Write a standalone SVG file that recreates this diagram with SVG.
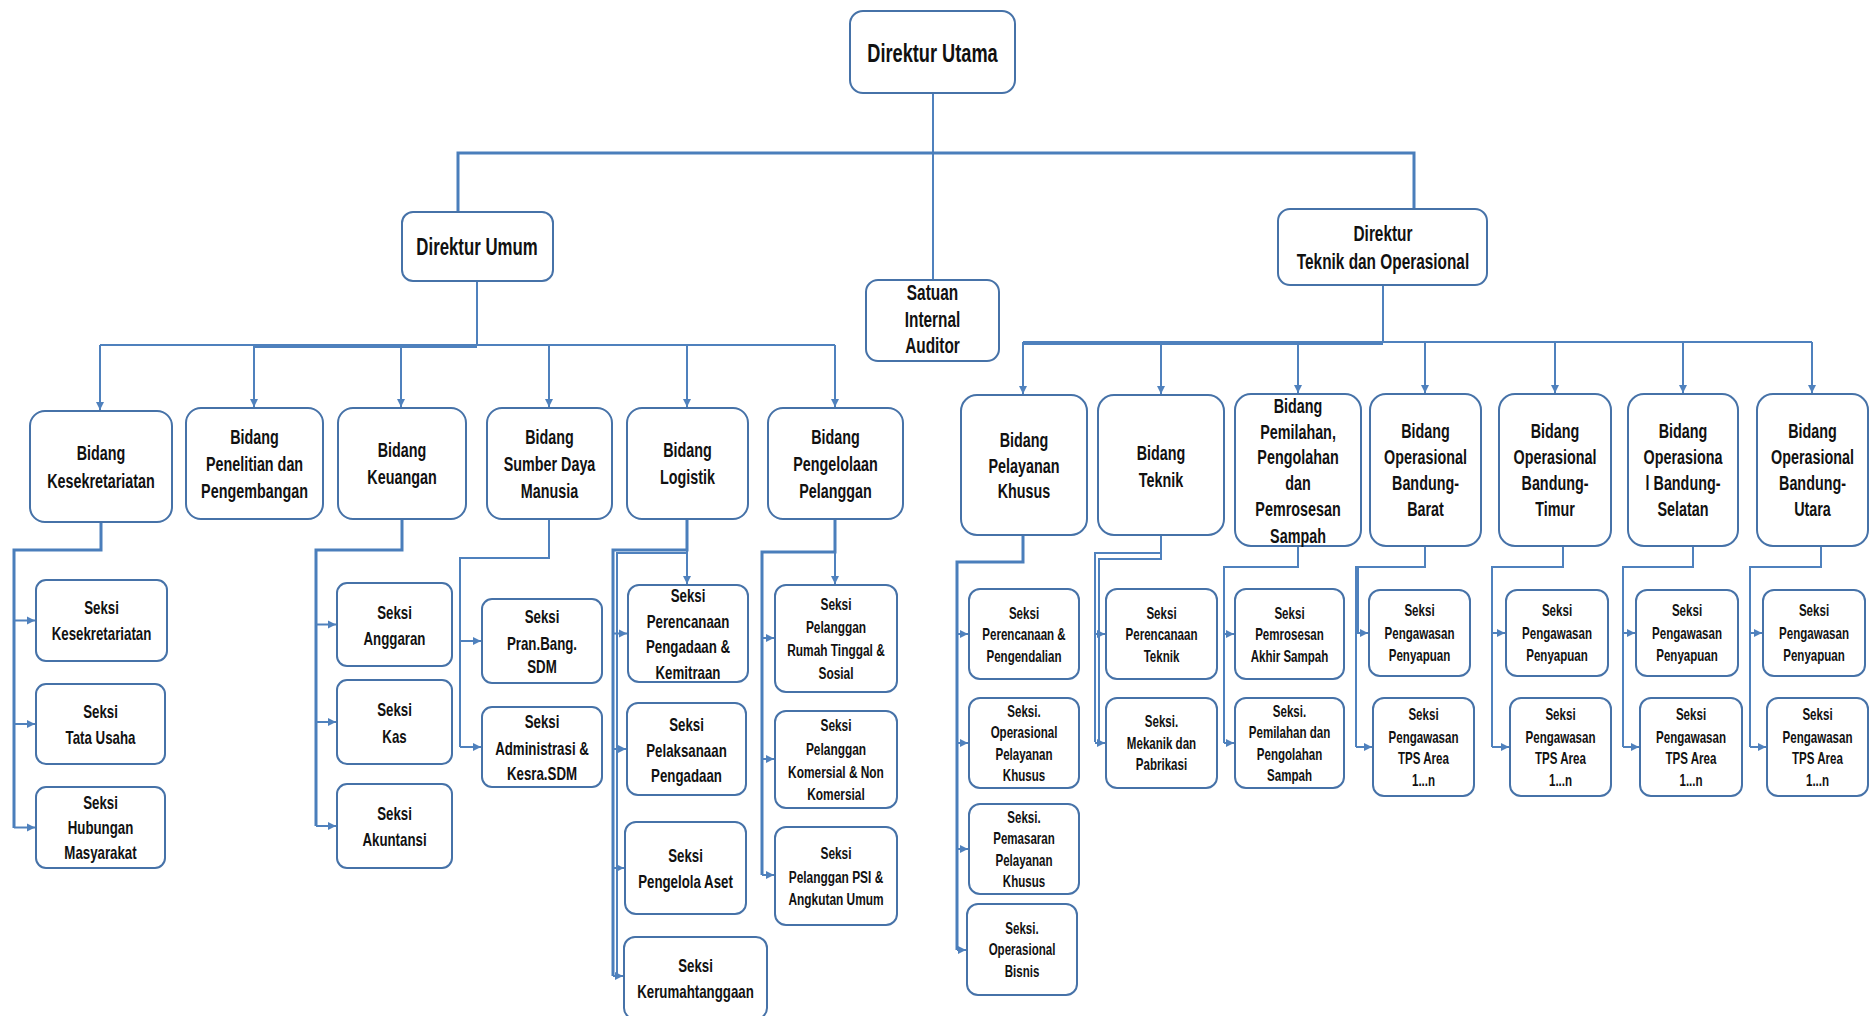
<svg xmlns="http://www.w3.org/2000/svg" width="1870" height="1016" viewBox="0 0 1870 1016">
<defs>
<style>
.b{fill:#fff;stroke:#4672a8;stroke-width:2}
.c{fill:none;stroke:#4f81bd;stroke-width:2}
.cb{fill:none;stroke:#4a7ebb;stroke-width:3}
text{font-family:"Liberation Sans",Arial,sans-serif;font-weight:bold;fill:#111;text-anchor:middle}
.f26{font-size:26px}.f24{font-size:24px}.f22{font-size:22px}.f20{font-size:20.5px}.f19{font-size:19px}.f17{font-size:17px}.f16{font-size:16.5px}
</style>
<marker id="a" markerWidth="10" markerHeight="10" refX="8" refY="5" orient="auto" markerUnits="userSpaceOnUse"><path d="M0,1 L8,5 L0,9 z" fill="#4f81bd"/></marker>
</defs>
<rect width="1870" height="1016" fill="#fff"/>

<g id="connectors">
<path class="c" d="M933,93 V279"/>
<path class="cb" d="M458,212 V153 H1414 V209"/>
<path class="c" d="M477,281 V345"/>
<path class="c" d="M100,345 H835"/>
<path class="c" d="M255,347 H477"/>
<path class="c" marker-end="url(#a)" d="M100,345 V410"/>
<path class="c" marker-end="url(#a)" d="M254,345 V407"/>
<path class="c" marker-end="url(#a)" d="M401,345 V407"/>
<path class="c" marker-end="url(#a)" d="M549,345 V407"/>
<path class="c" marker-end="url(#a)" d="M687,345 V407"/>
<path class="c" marker-end="url(#a)" d="M835,345 V407"/>
<path class="c" d="M1383,285 V342"/>
<path class="c" d="M1023,342 H1812"/>
<path class="c" d="M1023,344 H1383"/>
<path class="c" marker-end="url(#a)" d="M1023,342 V394"/>
<path class="c" marker-end="url(#a)" d="M1161,342 V394"/>
<path class="c" marker-end="url(#a)" d="M1298,342 V393"/>
<path class="c" marker-end="url(#a)" d="M1425,342 V393"/>
<path class="c" marker-end="url(#a)" d="M1555,342 V393"/>
<path class="c" marker-end="url(#a)" d="M1683,342 V393"/>
<path class="c" marker-end="url(#a)" d="M1812,342 V393"/>

<path class="cb" d="M101,522 V550 H14 V828"/>
<path class="c" marker-end="url(#a)" d="M14,620.5 H35"/>
<path class="c" marker-end="url(#a)" d="M14,724 H35"/>
<path class="c" marker-end="url(#a)" d="M14,827.5 H35"/>

<path class="cb" d="M402,519 V550 H316 V826"/>
<path class="c" marker-end="url(#a)" d="M316,624.5 H336"/>
<path class="c" marker-end="url(#a)" d="M316,722 H336"/>
<path class="c" marker-end="url(#a)" d="M316,826 H336"/>

<path class="c" d="M549,519 V558 H460 V747"/>
<path class="c" marker-end="url(#a)" d="M460,641 H481"/>
<path class="c" marker-end="url(#a)" d="M460,747 H481"/>

<path class="cb" d="M687,519 V550 H613 V976"/>
<path class="c" d="M687,553 H617 V976"/>
<path class="c" marker-end="url(#a)" d="M687,550 V584"/>
<path class="c" marker-end="url(#a)" d="M613,633.5 H627"/>
<path class="c" marker-end="url(#a)" d="M613,749 H626"/>
<path class="c" marker-end="url(#a)" d="M613,868 H624"/>
<path class="c" marker-end="url(#a)" d="M613,976 H623"/>

<path class="cb" d="M835,519 V552 H762 V875"/>
<path class="c" marker-end="url(#a)" d="M835,552 V584"/>
<path class="c" marker-end="url(#a)" d="M762,638 H774"/>
<path class="c" marker-end="url(#a)" d="M762,759 H774"/>
<path class="c" marker-end="url(#a)" d="M762,875 H774"/>

<path class="cb" d="M1023,535 V562 H957 V950"/>
<path class="c" marker-end="url(#a)" d="M957,634 H968"/>
<path class="c" marker-end="url(#a)" d="M957,743 H968"/>
<path class="c" marker-end="url(#a)" d="M957,849 H968"/>
<path class="c" marker-end="url(#a)" d="M957,950 H966"/>

<path class="c" d="M1161,535 V553 H1095 V742"/>
<path class="c" d="M1161,553 V559 H1099 V742"/>
<path class="c" marker-end="url(#a)" d="M1095,634 H1105"/>
<path class="c" marker-end="url(#a)" d="M1095,743 H1105"/>

<path class="c" d="M1298,546 V567 H1224 V743"/>
<path class="c" marker-end="url(#a)" d="M1224,634 H1234"/>
<path class="c" marker-end="url(#a)" d="M1224,743 H1234"/>

<path class="c" d="M1425,546 V567 H1356 V747"/>
<path class="c" d="M1358,567 V633"/>
<path class="c" marker-end="url(#a)" d="M1356,633 H1368"/>
<path class="c" marker-end="url(#a)" d="M1356,747 H1372"/>

<path class="c" d="M1563,546 V567 H1492 V747"/>
<path class="c" marker-end="url(#a)" d="M1492,633 H1505"/>
<path class="c" marker-end="url(#a)" d="M1492,747 H1509"/>

<path class="c" d="M1693,546 V567 H1623 V747"/>
<path class="c" d="M1623,567 V633"/>
<path class="c" marker-end="url(#a)" d="M1623,633 H1635"/>
<path class="c" marker-end="url(#a)" d="M1623,747 H1639"/>

<path class="c" d="M1821,546 V567 H1750 V747"/>
<path class="c" marker-end="url(#a)" d="M1750,633 H1762"/>
<path class="c" marker-end="url(#a)" d="M1750,747 H1766"/>
</g>

<g id="direktur-utama"><rect class="b" x="850" y="11" width="165" height="82" rx="13"/>
<text class="f26" transform="translate(932.5 0) scale(0.7 1)"><tspan x="0" y="62.5">Direktur Utama</tspan></text></g>

<g id="direktur-umum"><rect class="b" x="402" y="212" width="151" height="69" rx="11"/>
<text class="f24" transform="translate(477 0) scale(0.7 1)"><tspan x="0" y="255.5">Direktur Umum</tspan></text></g>

<g id="satuan-internal-auditor"><rect class="b" x="866" y="280" width="133" height="81" rx="12"/>
<text class="f22" transform="translate(932.5 0) scale(0.7 1)"><tspan x="0" y="300.5">Satuan</tspan><tspan x="0" y="327">Internal</tspan><tspan x="0" y="353">Auditor</tspan></text></g>

<g id="direktur-teknik"><rect class="b" x="1278" y="209" width="209" height="76" rx="12"/>
<text class="f22" transform="translate(1383 0) scale(0.7 1)"><tspan x="0" y="241">Direktur</tspan><tspan x="0" y="269.5">Teknik dan Operasional</tspan></text></g>

<g id="bidang-kesekretariatan"><rect class="b" x="30" y="411" width="142" height="111" rx="15"/>
<text class="f20" transform="translate(101 0) scale(0.7 1)"><tspan x="0" y="460.4">Bidang</tspan><tspan x="0" y="488">Kesekretariatan</tspan></text></g>

<g id="bidang-penelitian"><rect class="b" x="186" y="408" width="137" height="111" rx="15"/>
<text class="f20" transform="translate(254.5 0) scale(0.7 1)"><tspan x="0" y="444">Bidang</tspan><tspan x="0" y="471.4">Penelitian dan</tspan><tspan x="0" y="498.4">Pengembangan</tspan></text></g>

<g id="bidang-keuangan"><rect class="b" x="338" y="408" width="128" height="111" rx="15"/>
<text class="f20" transform="translate(402 0) scale(0.7 1)"><tspan x="0" y="457">Bidang</tspan><tspan x="0" y="484.4">Keuangan</tspan></text></g>

<g id="bidang-sdm"><rect class="b" x="487" y="408" width="125" height="111" rx="15"/>
<text class="f20" transform="translate(549.5 0) scale(0.7 1)"><tspan x="0" y="444">Bidang</tspan><tspan x="0" y="471.4">Sumber Daya</tspan><tspan x="0" y="498.4">Manusia</tspan></text></g>

<g id="bidang-logistik"><rect class="b" x="627" y="408" width="121" height="111" rx="15"/>
<text class="f20" transform="translate(687.5 0) scale(0.7 1)"><tspan x="0" y="457">Bidang</tspan><tspan x="0" y="484.4">Logistik</tspan></text></g>

<g id="bidang-pengelolaan-pelanggan"><rect class="b" x="768" y="408" width="135" height="111" rx="15"/>
<text class="f20" transform="translate(835.5 0) scale(0.7 1)"><tspan x="0" y="444">Bidang</tspan><tspan x="0" y="471.4">Pengelolaan</tspan><tspan x="0" y="498.4">Pelanggan</tspan></text></g>

<g id="seksi-kesekretariatan"><rect class="b" x="36" y="580" width="131" height="81" rx="10"/>
<text class="f19" transform="translate(101.5 0) scale(0.7 1)"><tspan x="0" y="613.8">Seksi</tspan><tspan x="0" y="639.8">Kesekretariatan</tspan></text></g>
<g id="seksi-tata-usaha"><rect class="b" x="36" y="684" width="129" height="80" rx="10"/>
<text class="f19" transform="translate(100.5 0) scale(0.7 1)"><tspan x="0" y="717.6">Seksi</tspan><tspan x="0" y="743.8">Tata Usaha</tspan></text></g>
<g id="seksi-humas"><rect class="b" x="36" y="787" width="129" height="81" rx="10"/>
<text class="f19" transform="translate(100.5 0) scale(0.7 1)"><tspan x="0" y="809.4">Seksi</tspan><tspan x="0" y="834.5">Hubungan</tspan><tspan x="0" y="859.5">Masyarakat</tspan></text></g>

<g id="seksi-anggaran"><rect class="b" x="337" y="583" width="115" height="83" rx="10"/>
<text class="f19" transform="translate(394.5 0) scale(0.7 1)"><tspan x="0" y="618.6">Seksi</tspan><tspan x="0" y="644.8">Anggaran</tspan></text></g>
<g id="seksi-kas"><rect class="b" x="337" y="680" width="115" height="84" rx="10"/>
<text class="f19" transform="translate(394.5 0) scale(0.7 1)"><tspan x="0" y="716.4">Seksi</tspan><tspan x="0" y="742.6">Kas</tspan></text></g>
<g id="seksi-akuntansi"><rect class="b" x="337" y="784" width="115" height="84" rx="10"/>
<text class="f19" transform="translate(394.5 0) scale(0.7 1)"><tspan x="0" y="819.8">Seksi</tspan><tspan x="0" y="846.4">Akuntansi</tspan></text></g>

<g id="seksi-pranbang-sdm"><rect class="b" x="482" y="599" width="120" height="84" rx="10"/>
<text class="f19" transform="translate(542 0) scale(0.7 1)"><tspan x="0" y="623.4">Seksi</tspan><tspan x="0" y="649.6">Pran.Bang.</tspan><tspan x="0" y="673.5">SDM</tspan></text></g>
<g id="seksi-administrasi-sdm"><rect class="b" x="482" y="707" width="120" height="80" rx="10"/>
<text class="f19" transform="translate(542 0) scale(0.7 1)"><tspan x="0" y="728.3">Seksi</tspan><tspan x="0" y="754.6">Administrasi &amp;</tspan><tspan x="0" y="779.6">Kesra.SDM</tspan></text></g>

<g id="seksi-perencanaan-pengadaan"><rect class="b" x="628" y="585" width="120" height="97" rx="11"/>
<text class="f19" transform="translate(688 0) scale(0.7 1)"><tspan x="0" y="601.8">Seksi</tspan><tspan x="0" y="627.8">Perencanaan</tspan><tspan x="0" y="652.8">Pengadaan &amp;</tspan><tspan x="0" y="679.4">Kemitraan</tspan></text></g>
<g id="seksi-pelaksanaan-pengadaan"><rect class="b" x="627" y="703" width="119" height="92" rx="11"/>
<text class="f19" transform="translate(686.5 0) scale(0.7 1)"><tspan x="0" y="730.8">Seksi</tspan><tspan x="0" y="756.8">Pelaksanaan</tspan><tspan x="0" y="781.8">Pengadaan</tspan></text></g>
<g id="seksi-pengelola-aset"><rect class="b" x="625" y="822" width="121" height="92" rx="11"/>
<text class="f19" transform="translate(685.5 0) scale(0.7 1)"><tspan x="0" y="861.8">Seksi</tspan><tspan x="0" y="887.8">Pengelola Aset</tspan></text></g>
<g id="seksi-kerumahtanggaan"><rect class="b" x="624" y="937" width="143" height="82" rx="11"/>
<text class="f19" transform="translate(695.5 0) scale(0.7 1)"><tspan x="0" y="971.8">Seksi</tspan><tspan x="0" y="997.8">Kerumahtanggaan</tspan></text></g>

<g id="seksi-pelanggan-rumah-tinggal"><rect class="b" x="775" y="585" width="122" height="107" rx="11"/>
<text class="f17" transform="translate(836 0) scale(0.7 1)"><tspan x="0" y="609.6">Seksi</tspan><tspan x="0" y="633.1">Pelanggan</tspan><tspan x="0" y="656.1">Rumah Tinggal &amp;</tspan><tspan x="0" y="678.7">Sosial</tspan></text></g>
<g id="seksi-pelanggan-komersial"><rect class="b" x="775" y="711" width="122" height="97" rx="11"/>
<text class="f17" transform="translate(836 0) scale(0.7 1)"><tspan x="0" y="731.1">Seksi</tspan><tspan x="0" y="755.1">Pelanggan</tspan><tspan x="0" y="777.7">Komersial &amp; Non</tspan><tspan x="0" y="800.1">Komersial</tspan></text></g>
<g id="seksi-pelanggan-psi"><rect class="b" x="775" y="827" width="122" height="98" rx="11"/>
<text class="f17" transform="translate(836 0) scale(0.7 1)"><tspan x="0" y="858.8">Seksi</tspan><tspan x="0" y="882.7">Pelanggan PSI &amp;</tspan><tspan x="0" y="905.1">Angkutan Umum</tspan></text></g>

<g id="bidang-pelayanan-khusus"><rect class="b" x="961" y="395" width="126" height="140" rx="16"/>
<text class="f20" transform="translate(1024 0) scale(0.7 1)"><tspan x="0" y="447.4">Bidang</tspan><tspan x="0" y="473.4">Pelayanan</tspan><tspan x="0" y="498.4">Khusus</tspan></text></g>
<g id="bidang-teknik"><rect class="b" x="1098" y="395" width="126" height="140" rx="16"/>
<text class="f20" transform="translate(1161 0) scale(0.7 1)"><tspan x="0" y="460.4">Bidang</tspan><tspan x="0" y="486.8">Teknik</tspan></text></g>
<g id="bidang-pemilahan"><rect class="b" x="1235" y="394" width="126" height="152" rx="16"/>
<text class="f20" transform="translate(1298 0) scale(0.7 1)"><tspan x="0" y="413">Bidang</tspan><tspan x="0" y="439">Pemilahan,</tspan><tspan x="0" y="464">Pengolahan</tspan><tspan x="0" y="490.4">dan</tspan><tspan x="0" y="516.4">Pemrosesan</tspan><tspan x="0" y="543">Sampah</tspan></text></g>
<g id="bidang-op-barat"><rect class="b" x="1370" y="394" width="111" height="152" rx="16"/>
<text class="f20" transform="translate(1425.5 0) scale(0.7 1)"><tspan x="0" y="438">Bidang</tspan><tspan x="0" y="464">Operasional</tspan><tspan x="0" y="490.4">Bandung-</tspan><tspan x="0" y="516.4">Barat</tspan></text></g>
<g id="bidang-op-timur"><rect class="b" x="1499" y="394" width="112" height="152" rx="16"/>
<text class="f20" transform="translate(1555 0) scale(0.7 1)"><tspan x="0" y="438">Bidang</tspan><tspan x="0" y="464">Operasional</tspan><tspan x="0" y="490.4">Bandung-</tspan><tspan x="0" y="516.4">Timur</tspan></text></g>
<g id="bidang-op-selatan"><rect class="b" x="1628" y="394" width="110" height="152" rx="16"/>
<text class="f20" transform="translate(1683 0) scale(0.7 1)"><tspan x="0" y="438">Bidang</tspan><tspan x="0" y="464">Operasiona</tspan><tspan x="0" y="490.4">l Bandung-</tspan><tspan x="0" y="516.4">Selatan</tspan></text></g>
<g id="bidang-op-utara"><rect class="b" x="1757" y="394" width="111" height="152" rx="16"/>
<text class="f20" transform="translate(1812.5 0) scale(0.7 1)"><tspan x="0" y="438">Bidang</tspan><tspan x="0" y="464">Operasional</tspan><tspan x="0" y="490.4">Bandung-</tspan><tspan x="0" y="516.4">Utara</tspan></text></g>

<g id="seksi-perencanaan-pengendalian"><rect class="b" x="969" y="589" width="110" height="90" rx="11"/>
<text class="f16" transform="translate(1024 0) scale(0.7 1)"><tspan x="0" y="618.9">Seksi</tspan><tspan x="0" y="640.4">Perencanaan &amp;</tspan><tspan x="0" y="661.9">Pengendalian</tspan></text></g>
<g id="seksi-operasional-pk"><rect class="b" x="969" y="698" width="110" height="90" rx="11"/>
<text class="f16" transform="translate(1024 0) scale(0.7 1)"><tspan x="0" y="716.7">Seksi.</tspan><tspan x="0" y="737.9">Operasional</tspan><tspan x="0" y="759.6">Pelayanan</tspan><tspan x="0" y="780.9">Khusus</tspan></text></g>
<g id="seksi-pemasaran-pk"><rect class="b" x="969" y="804" width="110" height="90" rx="11"/>
<text class="f16" transform="translate(1024 0) scale(0.7 1)"><tspan x="0" y="822.9">Seksi.</tspan><tspan x="0" y="844.3">Pemasaran</tspan><tspan x="0" y="865.9">Pelayanan</tspan><tspan x="0" y="886.9">Khusus</tspan></text></g>
<g id="seksi-operasional-bisnis"><rect class="b" x="967" y="904" width="110" height="91" rx="11"/>
<text class="f16" transform="translate(1022 0) scale(0.7 1)"><tspan x="0" y="933.9">Seksi.</tspan><tspan x="0" y="954.9">Operasional</tspan><tspan x="0" y="976.7">Bisnis</tspan></text></g>

<g id="seksi-perencanaan-teknik"><rect class="b" x="1106" y="589" width="111" height="90" rx="11"/>
<text class="f16" transform="translate(1161.5 0) scale(0.7 1)"><tspan x="0" y="618.9">Seksi</tspan><tspan x="0" y="640.4">Perencanaan</tspan><tspan x="0" y="661.9">Teknik</tspan></text></g>
<g id="seksi-mekanik"><rect class="b" x="1106" y="698" width="111" height="90" rx="11"/>
<text class="f16" transform="translate(1161.5 0) scale(0.7 1)"><tspan x="0" y="727.4">Seksi.</tspan><tspan x="0" y="748.9">Mekanik dan</tspan><tspan x="0" y="770.4">Pabrikasi</tspan></text></g>

<g id="seksi-pemrosesan"><rect class="b" x="1235" y="589" width="109" height="90" rx="11"/>
<text class="f16" transform="translate(1289.5 0) scale(0.7 1)"><tspan x="0" y="618.9">Seksi</tspan><tspan x="0" y="640.4">Pemrosesan</tspan><tspan x="0" y="661.9">Akhir Sampah</tspan></text></g>
<g id="seksi-pemilahan"><rect class="b" x="1235" y="698" width="109" height="90" rx="11"/>
<text class="f16" transform="translate(1289.5 0) scale(0.7 1)"><tspan x="0" y="716.7">Seksi.</tspan><tspan x="0" y="737.9">Pemilahan dan</tspan><tspan x="0" y="759.6">Pengolahan</tspan><tspan x="0" y="780.9">Sampah</tspan></text></g>

<g id="seksi-penyapuan-barat"><rect class="b" x="1369" y="590" width="101" height="86" rx="11"/>
<text class="f16" transform="translate(1419.5 0) scale(0.7 1)"><tspan x="0" y="616.5">Seksi</tspan><tspan x="0" y="638.9">Pengawasan</tspan><tspan x="0" y="660.6">Penyapuan</tspan></text></g>
<g id="seksi-tps-barat"><rect class="b" x="1373" y="698" width="101" height="98" rx="11"/>
<text class="f16" transform="translate(1423.5 0) scale(0.7 1)"><tspan x="0" y="719.9">Seksi</tspan><tspan x="0" y="742.9">Pengawasan</tspan><tspan x="0" y="764.4">TPS  Area</tspan><tspan x="0" y="785.9">1...n</tspan></text></g>

<g id="seksi-penyapuan-timur"><rect class="b" x="1506" y="590" width="102" height="86" rx="11"/>
<text class="f16" transform="translate(1557 0) scale(0.7 1)"><tspan x="0" y="616.5">Seksi</tspan><tspan x="0" y="638.9">Pengawasan</tspan><tspan x="0" y="660.6">Penyapuan</tspan></text></g>
<g id="seksi-tps-timur"><rect class="b" x="1510" y="698" width="101" height="98" rx="11"/>
<text class="f16" transform="translate(1560.5 0) scale(0.7 1)"><tspan x="0" y="719.9">Seksi</tspan><tspan x="0" y="742.9">Pengawasan</tspan><tspan x="0" y="764.4">TPS Area</tspan><tspan x="0" y="785.9">1...n</tspan></text></g>

<g id="seksi-penyapuan-selatan"><rect class="b" x="1636" y="590" width="102" height="86" rx="11"/>
<text class="f16" transform="translate(1687 0) scale(0.7 1)"><tspan x="0" y="616.5">Seksi</tspan><tspan x="0" y="638.9">Pengawasan</tspan><tspan x="0" y="660.6">Penyapuan</tspan></text></g>
<g id="seksi-tps-selatan"><rect class="b" x="1640" y="698" width="102" height="98" rx="11"/>
<text class="f16" transform="translate(1691 0) scale(0.7 1)"><tspan x="0" y="719.9">Seksi</tspan><tspan x="0" y="742.9">Pengawasan</tspan><tspan x="0" y="764.4">TPS Area</tspan><tspan x="0" y="785.9">1...n</tspan></text></g>

<g id="seksi-penyapuan-utara"><rect class="b" x="1763" y="590" width="102" height="86" rx="11"/>
<text class="f16" transform="translate(1814 0) scale(0.7 1)"><tspan x="0" y="616.5">Seksi</tspan><tspan x="0" y="638.9">Pengawasan</tspan><tspan x="0" y="660.6">Penyapuan</tspan></text></g>
<g id="seksi-tps-utara"><rect class="b" x="1767" y="698" width="101" height="98" rx="11"/>
<text class="f16" transform="translate(1817.5 0) scale(0.7 1)"><tspan x="0" y="719.9">Seksi</tspan><tspan x="0" y="742.9">Pengawasan</tspan><tspan x="0" y="764.4">TPS  Area</tspan><tspan x="0" y="785.9">1...n</tspan></text></g>
</svg>
